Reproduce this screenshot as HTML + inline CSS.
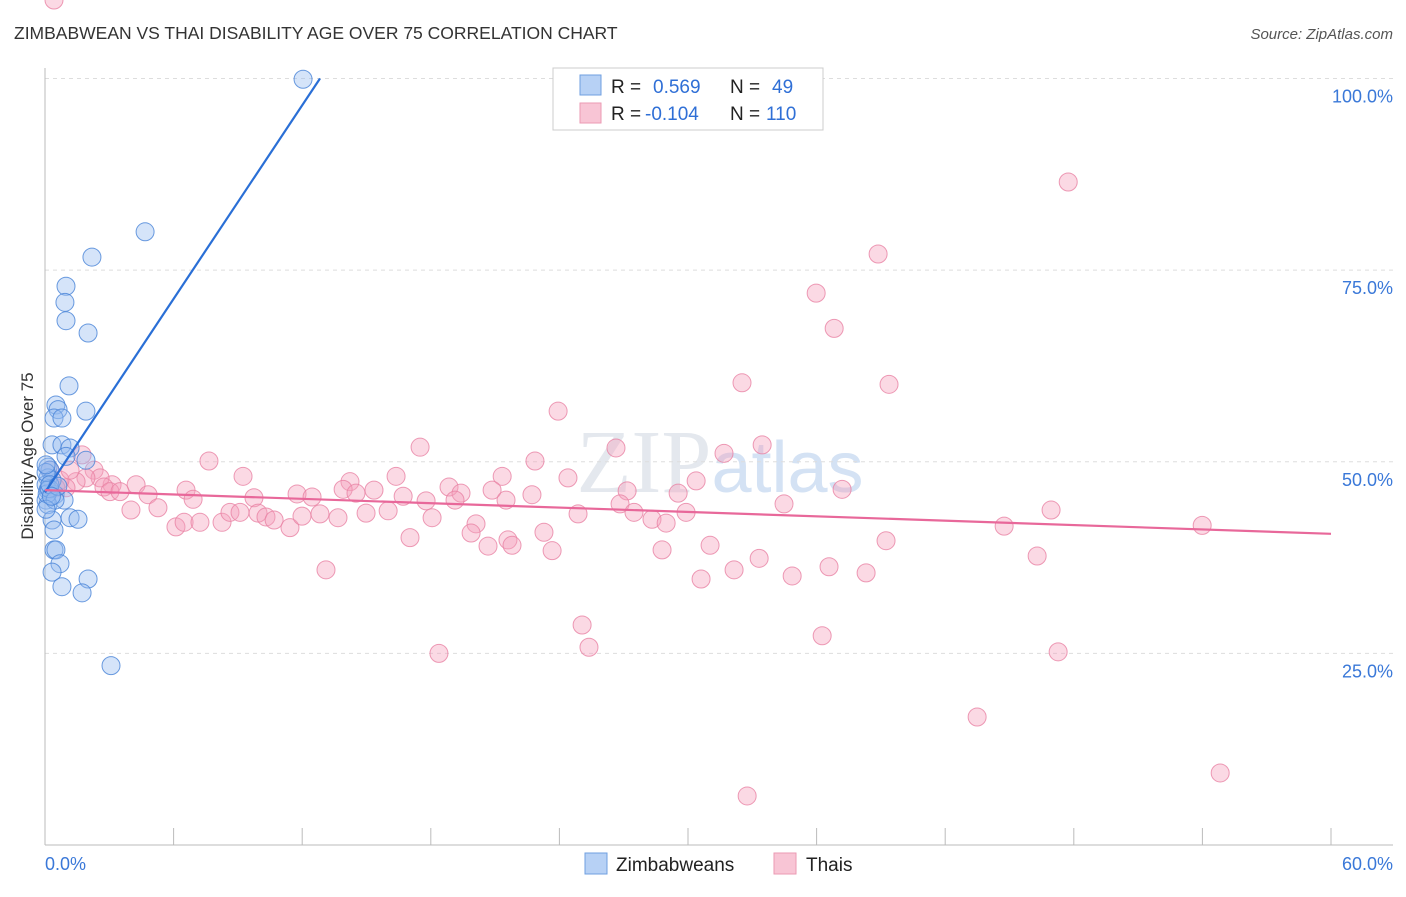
<!DOCTYPE html>
<html><head><meta charset="utf-8"><style>
body{margin:0;background:#fff;font-family:"Liberation Sans",sans-serif}
</style></head><body>
<svg id="chart" width="1406" height="892" xmlns="http://www.w3.org/2000/svg" font-family="Liberation Sans, sans-serif">
<text x="14" y="39" font-size="17.5" fill="#333">ZIMBABWEAN VS THAI DISABILITY AGE OVER 75 CORRELATION CHART</text>
<text x="1393" y="39" font-size="15" fill="#555" text-anchor="end" font-style="italic">Source: ZipAtlas.com</text>
<text x="720" y="492" font-size="90" fill="#e4e8ee" text-anchor="middle" font-family="Liberation Serif, serif">ZIP<tspan fill="#d4e2f4" font-family="Liberation Sans, sans-serif" font-size="72">atlas</tspan></text>
<g id="grid"></g>
<g id="axes"></g>
<g id="pts"></g>
<g id="lines"></g>
<text transform="translate(33,456) rotate(-90)" font-size="17" fill="#333" text-anchor="middle">Disability Age Over 75</text>
<g>
<rect x="553" y="68" width="270" height="62" fill="#fff" stroke="#ccc"/>
<rect x="580" y="75" width="21" height="20" fill="#b7d1f5" stroke="#6f9fe0"/>
<rect x="580" y="103" width="21" height="20" fill="#f8c5d5" stroke="#eb9ab3"/>
<text x="611" y="93" font-size="19" fill="#222">R = <tspan fill="#2f6fd6" x="653">0.569</tspan><tspan x="730" fill="#222">N = </tspan><tspan x="772" fill="#2f6fd6">49</tspan></text>
<text x="611" y="120" font-size="19" fill="#222">R = <tspan fill="#2f6fd6" x="645">-0.104</tspan><tspan x="730" fill="#222">N = </tspan><tspan x="766" fill="#2f6fd6">110</tspan></text>
</g>
<g>
<rect x="585" y="853" width="22" height="21" fill="#b7d1f5" stroke="#6f9fe0"/>
<text x="616" y="871" font-size="19" fill="#222">Zimbabweans</text>
<rect x="774" y="853" width="22" height="21" fill="#f8c5d5" stroke="#eb9ab3"/>
<text x="806" y="871" font-size="19" fill="#222">Thais</text>
</g>
</svg>
<script>
const yTicks=[25,50,75,100];
const yTickLabels=["25.0%","50.0%","75.0%","100.0%"];
const xTickLabels=["0.0%","60.0%"];
const blueX=[12.04,4.67,2.19,0.98,0.93,0.98,2.01,1.12,0.51,0.61,0.42,0.79,1.91,0.33,0.79,1.17,1.91,0.98,0.14,0.23,0.14,0.33,0.05,0.14,0.47,0.05,0.89,0.14,0.33,1.17,1.54,0.42,0.42,0.51,0.70,0.33,0.79,2.01,1.73,3.08,0.1,0.2,0.05,0.05,0.23,0.47,0.6,0.05,0.3];
const blueY=[99.9,80.0,76.7,72.9,70.8,68.4,66.8,59.9,57.4,56.8,55.7,55.7,56.6,52.2,52.2,51.8,50.2,50.7,49.3,48.9,47.9,47.6,47.0,46.3,45.7,45.0,45.0,44.4,42.4,42.7,42.5,41.1,38.5,38.5,36.7,35.6,33.7,34.7,32.9,23.4,45.8,46.5,48.6,49.6,47.0,45.0,46.8,43.8,45.5];
const pinkX=[47.74,38.87,35.98,36.82,32.52,39.38,23.94,17.50,26.64,33.46,31.68,7.65,22.86,9.24,16.38,21.33,24.40,30.38,18.85,14.23,15.35,20.86,19.41,29.54,37.19,27.16,3.13,4.25,4.81,6.58,6.91,9.75,11.76,12.46,13.91,14.51,16.71,17.78,19.13,21.51,22.72,26.83,34.48,46.94,4.01,5.27,6.11,6.49,7.23,8.26,8.63,9.10,9.94,10.31,10.69,11.43,11.99,12.83,13.67,14.98,16.01,18.06,20.11,19.88,21.60,21.79,23.28,23.66,24.87,27.48,28.32,28.98,29.91,31.03,39.24,44.75,53.99,46.29,28.79,30.61,32.15,33.32,34.86,36.58,38.31,17.03,13.11,20.67,25.06,25.38,18.38,36.26,47.27,43.49,54.83,32.76,2.29,2.57,1.91,1.45,2.75,3.03,3.50,0.98,0.70,0.51,1.17,1.73,0.23,0.42];
const pinkY=[86.5,77.1,72.0,67.4,60.3,60.1,56.6,51.9,51.8,52.2,51.1,50.1,50.1,48.1,48.1,48.1,47.9,47.5,46.7,47.4,46.3,46.3,45.9,45.9,46.4,46.2,47.0,47.0,45.7,46.3,45.1,45.3,45.8,45.4,46.4,45.9,45.5,44.9,45.0,45.0,45.7,44.5,44.5,43.7,43.7,44.0,41.5,42.1,42.1,42.1,43.4,43.4,43.3,42.8,42.4,41.4,42.9,43.2,42.7,43.3,43.6,42.7,41.9,40.7,39.8,39.1,40.8,38.4,43.2,43.4,42.5,42.0,43.4,39.1,39.7,41.6,41.7,37.7,38.5,34.7,35.9,37.4,35.1,36.3,35.5,40.1,35.9,39.0,28.7,25.8,25.0,27.3,25.2,16.7,9.4,6.4,48.9,47.9,47.9,47.4,46.7,46.1,46.1,46.6,47.6,46.6,48.9,50.9,48.9];
const blueTrend=[[0,46.0],[12.83,100]];
const pinkTrend=[[0,46.3],[60,40.6]];
const NS="http://www.w3.org/2000/svg";
const sx=v=>45+v*(1286/60), sy=v=>845-v*7.665;
function mk(tag,attrs,parent){const e=document.createElementNS(NS,tag);for(const k in attrs)e.setAttribute(k,attrs[k]);document.getElementById(parent).appendChild(e);return e;}
yTicks.forEach((t,i)=>{
 const g=mk('line',{x1:45,x2:1393,y1:sy(t),y2:sy(t),stroke:'#ddd','stroke-dasharray':'4,4'},'grid');
 
 
 const l=mk('text',{x:1393,y:sy(t)+24,'font-size':18,fill:'#3a78d8','text-anchor':'end'},'axes');
 l.textContent=yTickLabels[i];
 
 
});
const ax=mk('line',{x1:45,x2:45,y1:68,y2:845,stroke:'#bbb'},'axes');


const bx=mk('line',{x1:45,x2:1393,y1:845,y2:845,stroke:'#bbb'},'axes');


for(let i=0;i<=10;i++){const tk=mk('line',{x1:sx(i*6),x2:sx(i*6),y1:828,y2:845,stroke:'#bbb'},'axes');
 
 }
[[0,'start',45],[60,'end',1393]].forEach((d,i)=>{const t=mk('text',{x:d[2],y:870,'font-size':18,fill:'#3a78d8','text-anchor':d[1]},'axes');t.textContent=xTickLabels[i];
 
 });
pinkX.forEach((x,i)=>{const c=mk('circle',{cx:sx(x),cy:sy(pinkY[i]),r:9,fill:'rgba(244,160,188,0.4)',stroke:'rgba(232,130,164,0.8)','stroke-width':1},'pts');
 
 });
blueX.forEach((x,i)=>{const c=mk('circle',{cx:sx(x),cy:sy(blueY[i]),r:9,fill:'rgba(150,188,240,0.4)',stroke:'rgba(70,130,215,0.8)','stroke-width':1},'pts');
 
 });
const bl=mk('line',{x1:sx(blueTrend[0][0]),y1:sy(blueTrend[0][1]),x2:sx(blueTrend[1][0]),y2:sy(blueTrend[1][1]),stroke:'#2a6fd6','stroke-width':2.2},'lines');


const pl=mk('line',{x1:sx(pinkTrend[0][0]),y1:sy(pinkTrend[0][1]),x2:sx(pinkTrend[1][0]),y2:sy(pinkTrend[1][1]),stroke:'#e8689a','stroke-width':2.2},'lines');


</script>
</body></html>
